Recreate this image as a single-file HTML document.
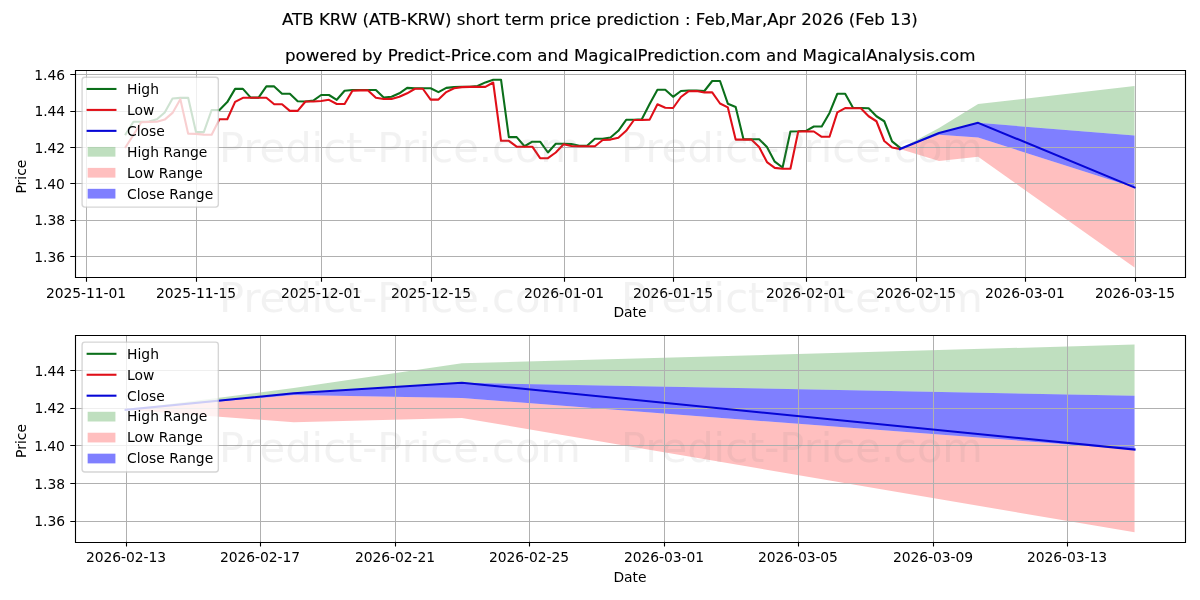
<!DOCTYPE html>
<html lang="en">
<head>
<meta charset="utf-8">
<title>ATB KRW (ATB-KRW) short term price prediction</title>
<style>html,body{margin:0;padding:0;background:#fff;overflow:hidden}svg{display:block}</style>
</head>
<body>
<svg width="1200" height="600" viewBox="0 0 1200 600">
<defs><clipPath id="c1"><rect x="75.15" y="70.33" width="1109.85" height="206.56"/></clipPath><clipPath id="c2"><rect x="75.15" y="335.17" width="1109.85" height="206.56"/></clipPath></defs>
<rect width="1200" height="600" fill="#fff"/>
<g id="ax1">
<g clip-path="url(#c1)">
<polygon points="899.91,149.05 939.02,133.04 978.13,122.85 1134.55,135.4 1134.55,85.91 978.13,104.1 939.02,127.94 899.91,149.05" fill="#008000" fill-opacity="0.25"/>
<polygon points="899.91,149.05 939.02,134.67 978.13,137.58 1134.55,187.44 1134.55,267.5 978.13,156.87 939.02,161.06 899.91,149.05" fill="#ff0000" fill-opacity="0.25"/>
<polygon points="899.91,149.05 939.02,134.67 978.13,137.58 1134.55,187.44 1134.55,135.4 978.13,122.85 939.02,133.04 899.91,149.05" fill="#0000ff" fill-opacity="0.5"/>
</g>
<path d="M86.5 70.33V276.89M196.5 70.33V276.89M321.5 70.33V276.89M431.5 70.33V276.89M564.5 70.33V276.89M673.5 70.33V276.89M806.5 70.33V276.89M916.5 70.33V276.89M1025.5 70.33V276.89M1135.5 70.33V276.89M75.15 256.5H1185M75.15 220.5H1185M75.15 183.5H1185M75.15 147.5H1185M75.15 111.5H1185M75.15 74.5H1185" stroke="#b0b0b0" stroke-width="1" fill="none"/>
<g clip-path="url(#c1)" fill="none" stroke-width="2.08" stroke-linejoin="round" stroke-linecap="square">
<polyline points="125.6,134.2 133.42,121.7 141.24,121.8 149.06,121.5 156.89,119.2 164.71,112.5 172.53,98.5 180.35,97.9 188.17,97.7 195.99,132.1 203.81,132.1 211.64,110 219.46,110 227.28,102.1 235.1,88.9 242.92,88.9 250.74,97.6 258.56,97.6 266.38,86.4 274.21,86.4 282.03,93.8 289.85,93.8 297.67,101.3 305.49,101.5 313.31,100.6 321.13,95 328.96,95 336.78,99.8 344.6,90.8 352.42,90 360.24,90 368.06,90 375.88,90 383.7,97.5 391.53,96.8 399.35,93.3 407.17,87.9 414.99,88.2 422.81,88.2 430.63,88.2 438.45,92.1 446.28,87.9 454.1,87.1 461.92,86.7 469.74,86.7 477.56,86 485.38,82.4 493.2,79.72 501.02,79.72 508.85,137.1 516.67,137.1 524.49,146.25 532.31,141.7 540.13,141.7 547.95,152.5 555.77,143.75 563.6,143.75 571.42,144 579.24,145.8 587.06,145.8 594.88,138.75 602.7,138.75 610.52,137.5 618.34,130.8 626.17,119.8 633.99,119.8 641.81,119.2 649.63,104.1 657.45,89.75 665.27,89.75 673.09,96.8 680.92,91 688.74,90.5 696.56,90.5 704.38,91 712.2,81 720.02,81 727.84,103.7 735.66,107 743.49,139.2 751.31,139.2 759.13,139.2 766.95,147.1 774.77,161.7 782.59,167.5 790.41,131.5 798.24,131.25 806.06,130.8 813.88,126.5 821.7,126.5 829.52,112.9 837.34,93.75 845.16,93.75 852.98,107.8 860.81,108 868.63,108.3 876.45,116.25 884.27,121.25 892.09,141.4 899.91,147.7" stroke="#0b6f1a"/>
<polyline points="125.6,147 133.42,135 141.24,122.2 149.06,121.9 156.89,121.7 164.71,119.6 172.53,112.9 180.35,99.2 188.17,133.75 195.99,133.9 203.81,134.6 211.64,134.8 219.46,119.25 227.28,119.25 235.1,101.9 242.92,97.8 250.74,97.8 258.56,97.8 266.38,97.8 274.21,104.25 282.03,104.25 289.85,110.9 297.67,110.9 305.49,101.5 313.31,101.5 321.13,101 328.96,99.8 336.78,104 344.6,104 352.42,90.8 360.24,90.4 368.06,90.4 375.88,97.7 383.7,99 391.53,98.9 399.35,96.8 407.17,93.3 414.99,88.75 422.81,88.75 430.63,99.6 438.45,99.6 446.28,92.1 454.1,88.2 461.92,87.1 469.74,86.9 477.56,86.9 485.38,86.9 493.2,82.5 501.02,140.8 508.85,140.8 516.67,146.7 524.49,146.7 532.31,146.7 540.13,158.2 547.95,158.2 555.77,152.5 563.6,144.2 571.42,146 579.24,146.25 587.06,146.25 594.88,146.25 602.7,140 610.52,139.6 618.34,137.7 626.17,130.8 633.99,120 641.81,120 649.63,119.6 657.45,104.3 665.27,107.8 673.09,108 680.92,97 688.74,91.2 696.56,91 704.38,92.4 712.2,92.4 720.02,103.5 727.84,107.4 735.66,139.6 743.49,139.6 751.31,139.6 759.13,147.1 766.95,162.1 774.77,167.9 782.59,168.75 790.41,168.75 798.24,131.5 806.06,131.4 813.88,131.5 821.7,136.8 829.52,136.8 837.34,112.4 845.16,108.1 852.98,108.3 860.81,108.3 868.63,116.25 876.45,121.25 884.27,141 892.09,147.5 899.91,149" stroke="#e00f18"/>
<polyline points="899.91,149.05 939.02,133.04 978.13,122.85 1134.55,187.44" stroke="#0606d6"/>
</g>
<path d="M86.5 276.89v4.86M196.5 276.89v4.86M321.5 276.89v4.86M431.5 276.89v4.86M564.5 276.89v4.86M673.5 276.89v4.86M806.5 276.89v4.86M916.5 276.89v4.86M1025.5 276.89v4.86M1135.5 276.89v4.86M75.15 256.5h-4.86M75.15 220.5h-4.86M75.15 183.5h-4.86M75.15 147.5h-4.86M75.15 111.5h-4.86M75.15 74.5h-4.86" stroke="#000" stroke-width="1.11" fill="none"/>
<path d="M75.5 69.95V278.05M1185.5 69.95V278.05M74.95 70.5H1186.05M74.95 277.5H1186.05" stroke="#000" stroke-width="1.11" fill="none"/>
</g>
<g id="ax2">
<g clip-path="url(#c2)">
<polygon points="125.6,409.85 293.76,393.29 461.92,382.75 1134.55,395.73 1134.55,344.56 461.92,363.37 293.76,388.02 125.6,409.85" fill="#008000" fill-opacity="0.25"/>
<polygon points="125.6,409.85 293.76,394.98 461.92,397.99 1134.55,449.55 1134.55,532.33 461.92,417.94 293.76,422.26 125.6,409.85" fill="#ff0000" fill-opacity="0.25"/>
<polygon points="125.6,409.85 293.76,394.98 461.92,397.99 1134.55,449.55 1134.55,395.73 461.92,382.75 293.76,393.29 125.6,409.85" fill="#0000ff" fill-opacity="0.5"/>
</g>
<path d="M126.5 335.17V541.72M260.5 335.17V541.72M395.5 335.17V541.72M529.5 335.17V541.72M664.5 335.17V541.72M798.5 335.17V541.72M933.5 335.17V541.72M1067.5 335.17V541.72M75.15 521.5H1185M75.15 483.5H1185M75.15 445.5H1185M75.15 408.5H1185M75.15 370.5H1185" stroke="#b0b0b0" stroke-width="1" fill="none"/>
<g clip-path="url(#c2)" fill="none" stroke-width="2.08" stroke-linejoin="round" stroke-linecap="square">
<polyline points="125.6,409.85 293.76,393.29 461.92,382.75 1134.55,449.55" stroke="#0606d6"/>
</g>
<path d="M126.5 541.72v4.86M260.5 541.72v4.86M395.5 541.72v4.86M529.5 541.72v4.86M664.5 541.72v4.86M798.5 541.72v4.86M933.5 541.72v4.86M1067.5 541.72v4.86M75.15 521.5h-4.86M75.15 483.5h-4.86M75.15 445.5h-4.86M75.15 408.5h-4.86M75.15 370.5h-4.86" stroke="#000" stroke-width="1.11" fill="none"/>
<path d="M75.5 334.95V543.05M1185.5 334.95V543.05M74.95 335.5H1186.05M74.95 542.5H1186.05" stroke="#000" stroke-width="1.11" fill="none"/>
</g>
<rect x="82.1" y="77.28" width="136.25" height="129.83" rx="2.78" fill="#fff" stroke="#ccc" stroke-width="1.39" opacity="0.8"/>
<path d="M87.65 88.97H115.43" stroke="#0b6f1a" stroke-width="2.08" stroke-linecap="square"/>
<path d="M87.65 109.92H115.43" stroke="#e00f18" stroke-width="2.08" stroke-linecap="square"/>
<path d="M87.65 130.86H115.43" stroke="#0606d6" stroke-width="2.08" stroke-linecap="square"/>
<rect x="87.65" y="146.94" width="27.78" height="9.72" fill="#008000" fill-opacity="0.25"/>
<rect x="87.65" y="167.89" width="27.78" height="9.72" fill="#ff0000" fill-opacity="0.25"/>
<rect x="87.65" y="188.83" width="27.78" height="9.72" fill="#0000ff" fill-opacity="0.5"/>
<rect x="82.1" y="342.11" width="136.25" height="129.83" rx="2.78" fill="#fff" stroke="#ccc" stroke-width="1.39" opacity="0.8"/>
<path d="M87.65 353.81H115.43" stroke="#0b6f1a" stroke-width="2.08" stroke-linecap="square"/>
<path d="M87.65 374.75H115.43" stroke="#e00f18" stroke-width="2.08" stroke-linecap="square"/>
<path d="M87.65 395.69H115.43" stroke="#0606d6" stroke-width="2.08" stroke-linecap="square"/>
<rect x="87.65" y="411.78" width="27.78" height="9.72" fill="#008000" fill-opacity="0.25"/>
<rect x="87.65" y="432.72" width="27.78" height="9.72" fill="#ff0000" fill-opacity="0.25"/>
<rect x="87.65" y="453.67" width="27.78" height="9.72" fill="#0000ff" fill-opacity="0.5"/>
<g font-family="'DejaVu Sans', 'Liberation Sans', sans-serif" fill="#000">
<text x="45.93" y="297.61" font-size="13.89" textLength="80.12">2025-11-01</text>
<text x="155.93" y="297.61" font-size="13.89" textLength="80.12">2025-11-15</text>
<text x="281.01" y="297.61" font-size="13.89" textLength="80">2025-12-01</text>
<text x="391.01" y="297.61" font-size="13.89" textLength="80">2025-12-15</text>
<text x="523.91" y="297.61" font-size="13.89" textLength="80.12">2026-01-01</text>
<text x="632.91" y="297.61" font-size="13.89" textLength="80.12">2026-01-15</text>
<text x="765.93" y="297.61" font-size="13.89" textLength="80">2026-02-01</text>
<text x="876.06" y="297.61" font-size="13.89" textLength="80">2026-02-15</text>
<text x="984.93" y="297.61" font-size="13.89" textLength="80">2026-03-01</text>
<text x="1095.05" y="297.61" font-size="13.89" textLength="80">2026-03-15</text>
<text x="613.39" y="317.17" font-size="13.89">Date</text>
<text x="34.31" y="261.72" font-size="13.89">1.36</text>
<text x="34.31" y="225.33" font-size="13.89">1.38</text>
<text x="34.18" y="188.94" font-size="13.89" textLength="30.75">1.40</text>
<text x="34.43" y="152.55" font-size="13.89" textLength="30.75">1.42</text>
<text x="34.43" y="116.16" font-size="13.89" textLength="30.75">1.44</text>
<text x="34.31" y="79.77" font-size="13.89">1.46</text>
<text transform="translate(26 193.55) rotate(-90)" font-size="13.89" textLength="33.88">Price</text>
<text x="285.01" y="61" font-size="16.67" textLength="690.38" stroke="#000" stroke-width="0.15">powered by Predict-Price.com and MagicalPrediction.com and MagicalAnalysis.com</text>
<text x="127.04" y="93.83" font-size="13.89">High</text>
<text x="127.04" y="114.78" font-size="13.89">Low</text>
<text x="127.04" y="135.72" font-size="13.89">Close</text>
<text x="127.04" y="156.67" font-size="13.89">High Range</text>
<text x="127.04" y="177.61" font-size="13.89" textLength="75.88">Low Range</text>
<text x="127.04" y="198.56" font-size="13.89">Close Range</text>
<text x="85.98" y="562.44" font-size="13.89" textLength="80">2026-02-13</text>
<text x="220" y="562.44" font-size="13.89" textLength="80">2026-02-17</text>
<text x="355.03" y="562.44" font-size="13.89" textLength="80">2026-02-21</text>
<text x="489.12" y="562.44" font-size="13.89" textLength="79.88">2026-02-25</text>
<text x="623.96" y="562.44" font-size="13.89" textLength="80">2026-03-01</text>
<text x="758.05" y="562.44" font-size="13.89" textLength="79.88">2026-03-05</text>
<text x="893.01" y="562.44" font-size="13.89" textLength="80">2026-03-09</text>
<text x="1027.04" y="562.44" font-size="13.89" textLength="80">2026-03-13</text>
<text x="613.39" y="582" font-size="13.89">Date</text>
<text x="34.31" y="526.17" font-size="13.89">1.36</text>
<text x="34.31" y="488.54" font-size="13.89">1.38</text>
<text x="34.18" y="450.91" font-size="13.89" textLength="30.75">1.40</text>
<text x="34.43" y="413.28" font-size="13.89" textLength="30.75">1.42</text>
<text x="34.43" y="375.64" font-size="13.89" textLength="30.75">1.44</text>
<text transform="translate(26 457.88) rotate(-90)" font-size="13.89" textLength="33.88">Price</text>
<text x="127.04" y="358.67" font-size="13.89">High</text>
<text x="127.04" y="379.61" font-size="13.89">Low</text>
<text x="127.04" y="400.56" font-size="13.89">Close</text>
<text x="127.04" y="421" font-size="13.89">High Range</text>
<text x="127.04" y="442.44" font-size="13.89" textLength="75.88">Low Range</text>
<text x="127.04" y="463.39" font-size="13.89">Close Range</text>
<text x="282 292.12 302.28 313.68 318.97 329.87 340.8 357.23 362.52 369.01 379.13 389.28 400.69 406.69 417.59 428.52 444.95 451.44 456.73 465.39 475.92 486.09 492.93 499.45 504.73 511.25 521.48 528.07 544.26 549.54 560.1 566.93 571.55 580.69 590.92 596.2 606.76 613.22 623.45 634 638.62 647.76 654.28 658.9 669.07 679.6 684.89 690.49 695.77 704.46 714.69 725.24 730.53 744.87 755.06 761.89 767.18 778.55 789.11 795.94 801.22 811.8 822.38 832.96 843.53 848.82 855.3 863.99 874.22 884.77 890.06 900.64 911.21" y="25" font-size="16.67" stroke="#000" stroke-width="0.15">ATB KRW (ATB-KRW) short term price prediction : Feb,Mar,Apr 2026 (Feb 13)</text>
</g>
<g font-family="'DejaVu Sans', 'Liberation Sans', sans-serif" fill="#808080" fill-opacity="0.1">
<text x="219.06" y="462" font-size="41.67" textLength="361.88">Predict-Price.com</text>
<text x="219.06" y="312" font-size="41.67" textLength="361.88">Predict-Price.com</text>
<text x="219.06" y="162" font-size="41.67" textLength="361.88">Predict-Price.com</text>
<text x="621.06" y="462" font-size="41.67" textLength="361.88">Predict-Price.com</text>
<text x="621.06" y="312" font-size="41.67" textLength="361.88">Predict-Price.com</text>
<text x="621.06" y="162" font-size="41.67" textLength="361.88">Predict-Price.com</text>
</g>
</svg>
</body>
</html>
